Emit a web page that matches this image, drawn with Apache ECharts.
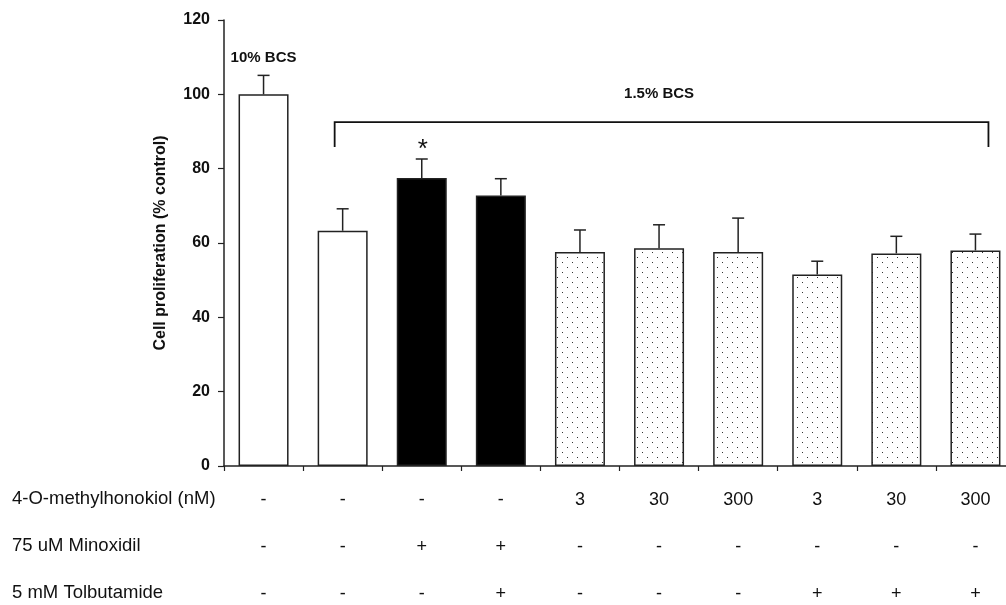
<!DOCTYPE html>
<html>
<head>
<meta charset="utf-8">
<script src="https://cdn.jsdelivr.net/npm/echarts@6/dist/echarts.min.js"></script>
<style>
  html, body { margin: 0; padding: 0; background: #fff; }
  #chart { width: 1006px; height: 605px; }
</style>
</head>
<body>
<div id="chart"></div>
<script>
// groups in plotting order
var groups = ['g1', 'g2', 'g3', 'g4', 'g5', 'g6', 'g7', 'g8', 'g9', 'g10'];
// mean cell proliferation (% control) and upper error bar
var means = [100, 63.3, 77.5, 72.8, 57.6, 58.6, 57.6, 51.5, 57.2, 58.0];
var uppers = [105.1, 69.2, 82.6, 77.3, 63.5, 64.9, 66.7, 55.1, 61.8, 62.4];
var signif = ['', '', '*', '', '', '', '', '', '', ''];
// bar style: white / black / dotted
var fills = ['white', 'white', 'black', 'black', 'dot', 'dot', 'dot', 'dot', 'dot', 'dot'];
// treatment table under the axis
var rowNames = ['4-O-methylhonokiol (nM)', '75 uM Minoxidil', '5 mM Tolbutamide'];
var honokiol = ['-', '-', '-', '-', '3', '30', '300', '3', '30', '300'];
var minoxidil = ['-', '-', '+', '+', '-', '-', '-', '-', '-', '-'];
var tolbutamide = ['-', '-', '-', '+', '-', '-', '-', '+', '+', '+'];
var yTicks = [0, 20, 40, 60, 80, 100, 120];

var FONT = '"Liberation Sans", Arial, sans-serif';

// dotted fill pattern
var tile = document.createElement('canvas');
tile.width = 10;
tile.height = 10;
var tctx = tile.getContext('2d');
tctx.fillStyle = '#fff';
tctx.fillRect(0, 0, 10, 10);
tctx.fillStyle = '#333';
tctx.fillRect(2, 2, 1, 1);
tctx.fillRect(7, 7, 1, 1);

function fillFor(kind) {
  if (kind === 'black') return '#000';
  if (kind === 'dot') return { image: tile, repeat: 'repeat' };
  return '#fff';
}

var barData = means.map(function (v, i) {
  return { value: v, itemStyle: { color: fillFor(fills[i]) } };
});
var errData = means.map(function (v, i) { return [i, v, uppers[i]]; });

var myChart = echarts.init(document.getElementById('chart'));
var option = {
  backgroundColor: '#fff',
  animation: false,
  grid: { left: 224, right: -9, top: 20, bottom: 139, outerBoundsMode: 'none', containLabel: false },
  xAxis: {
    type: 'category',
    data: groups,
    axisLine: { lineStyle: { color: '#222', width: 1.5 } },
    axisTick: { show: true, length: 5, inside: false, lineStyle: { color: '#222', width: 1.2 } },
    axisLabel: {
      interval: 0,
      margin: 11,
      fontFamily: FONT,
      fontSize: 18,
      color: '#111',
      lineHeight: 47,
      formatter: function (v, i) {
        return honokiol[i] + '\n' + minoxidil[i] + '\n' + tolbutamide[i];
      }
    }
  },
  yAxis: {
    type: 'value',
    min: 0,
    max: 120,
    interval: 20,
    name: 'Cell proliferation (% control)',
    nameLocation: 'middle',
    nameGap: 55,
    nameTextStyle: { fontFamily: FONT, fontWeight: 'bold', fontSize: 16, color: '#111' },
    axisLine: { show: true, lineStyle: { color: '#222', width: 1.5 } },
    axisTick: { show: true, length: 6, lineStyle: { color: '#222', width: 1.2 } },
    splitLine: { show: false },
    axisLabel: {
      margin: 14,
      fontFamily: FONT,
      fontWeight: 'bold',
      fontSize: 16,
      color: '#111',
      formatter: function (v) { return yTicks.indexOf(v) >= 0 ? String(v) : ''; }
    }
  },
  graphic: rowNames.map(function (t, k) {
    return {
      type: 'text',
      left: 12,
      top: 489 + k * 47,
      style: { text: t, fontFamily: FONT, fontSize: 18.5, fill: '#111' }
    };
  }),
  series: [
    {
      type: 'bar',
      data: barData,
      barWidth: 50,
      itemStyle: { borderColor: '#222', borderWidth: 1.5 },
      z: 2
    },
    {
      type: 'custom',
      data: errData,
      z: 3,
      renderItem: function (params, api) {
        var i = api.value(0);
        var base = api.coord([i, api.value(1)]);
        var top = api.coord([i, api.value(2)]);
        var children = [
          { type: 'line', shape: { x1: base[0], y1: base[1], x2: top[0], y2: top[1] },
            style: { stroke: '#222', lineWidth: 1.5 } },
          { type: 'line', shape: { x1: top[0] - 6, y1: top[1], x2: top[0] + 6, y2: top[1] },
            style: { stroke: '#222', lineWidth: 1.5 } }
        ];
        if (signif[i]) {
          children.push({ type: 'text', style: { text: signif[i], x: top[0] + 1, y: top[1] + 4,
            align: 'center', verticalAlign: 'bottom', fontFamily: FONT, fontSize: 26, fill: '#111' } });
        }
        return { type: 'group', children: children };
      }
    },
    {
      // group annotations: bracket for 1.5% BCS and labels
      type: 'custom',
      data: [[0]],
      z: 3,
      renderItem: function (params, api) {
        var a = api.coord([1, 92.5]);
        var b = api.coord([9, 92.5]);
        var down = api.coord([1, 85.8]);
        var lab1 = api.coord([0, 109.8]);
        var lab2 = api.coord([4.75, 100]);
        var x1 = a[0] - 8, x2 = b[0] + 13;
        return {
          type: 'group',
          children: [
            { type: 'polyline', shape: { points: [[x1, down[1]], [x1, a[1]], [x2, a[1]], [x2, down[1]]] },
              style: { stroke: '#111', lineWidth: 1.8, fill: null } },
            { type: 'text', style: { text: '10% BCS', x: lab1[0], y: lab1[1], align: 'center',
              verticalAlign: 'middle', fontFamily: FONT, fontWeight: 'bold', fontSize: 15, fill: '#111' } },
            { type: 'text', style: { text: '1.5% BCS', x: lab2[0], y: lab2[1], align: 'center',
              verticalAlign: 'middle', fontFamily: FONT, fontWeight: 'bold', fontSize: 15, fill: '#111' } }
          ]
        };
      }
    }
  ]
};
myChart.setOption(option);
</script>
</body>
</html>
